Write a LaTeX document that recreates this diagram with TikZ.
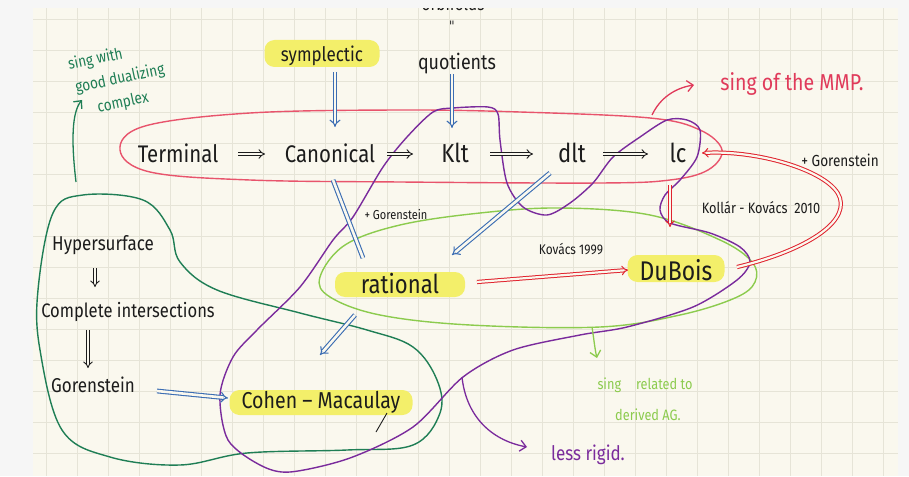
\documentclass[tikz,border=0pt]{standalone}
\usepackage{fontspec}
\setmainfont{Fira Sans}[FakeStretch=0.85]
\usetikzlibrary{arrows.meta}
\definecolor{paper}{HTML}{FAF8EE}
\definecolor{margin}{HTML}{F6F6F6}
\definecolor{gridc}{HTML}{E6E4D7}
\definecolor{ink}{HTML}{1C1C1C}
\definecolor{ellred}{HTML}{E8546C}
\definecolor{arrred}{HTML}{E0232E}
\definecolor{mmpred}{HTML}{E03A5A}
\definecolor{penblue}{HTML}{3B6DB3}
\definecolor{penpurple}{HTML}{7A2B9C}
\definecolor{dgreen}{HTML}{1F7E55}
\definecolor{lgreen}{HTML}{8CCB4E}
\definecolor{hlyellow}{HTML}{F3EF6A}
\newcommand\hsz[1]{\fontsize{#1}{#1}\selectfont}
\tikzset{
  lbl/.style={inner sep=0pt, outer sep=0pt, anchor=base, text=ink},
  hlbox/.style={lbl, fill=hlyellow, rounded corners=10pt, inner xsep=0pt, inner ysep=2pt},
  blackimp/.style={draw=ink, double=paper, line width=0.9pt, double distance=2.4pt, -{Implies}},
  blueimp/.style={draw=penblue, double=paper, line width=1.1pt, double distance=2.6pt, -{Implies}},
  bluedbl/.style={draw=penblue, double=paper, line width=1.1pt, double distance=2.6pt},
  redimp/.style={draw=arrred, double=paper, line width=1pt, double distance=2.2pt, -{Implies}},
  loopline/.style={line width=1.4pt},
  penarrow/.style={line width=1.3pt, -{Straight Barb[length=6pt,width=11pt]}}
}
\begin{document}
\begin{tikzpicture}[x=1pt,y=-1pt]
\useasboundingbox (0,0) rectangle (909,476);
% background
\fill[margin] (0,0) rectangle (909,476);
\fill[paper] (33,8) rectangle (898,476);
\foreach \i in {0,...,27} { \draw[gridc, line width=0.8pt] ({46.5+31*\i},8) -- ({46.5+31*\i},476); }
\foreach \j in {0,...,14} { \draw[gridc, line width=0.8pt] (33,{19.5+31*\j}) -- (898,{19.5+31*\j}); }

% top texts (the first is cut off by the top strip, as in the reference)
\node[lbl, font=\hsz{18}] (orb) at (453,11) {orbifolds};
\fill[margin] (0,0) rectangle (909,8);
\node[inner sep=0pt, text=ink, rotate=90, font=\hsz{12}] (eq) at (453,22.5) {=};
\node[lbl, font=\hsz{21}] (quot) at (457,70) {quotients};
\node[hlbox, font=\hsz{20}, minimum width=115pt, text height=20pt, text depth=3pt] (sym) at (322,62) {symplectic};

% main row
\node[lbl, font=\hsz{24}] (term) at (178,162) {Terminal};
\node[lbl, font=\hsz{24}] (canon) at (330,162) {Canonical};
\node[lbl, font=\hsz{26}] (klt) at (455,162) {Klt};
\node[lbl, font=\hsz{26}] (dlt) at (572,162) {dlt};
\node[lbl, font=\hsz{26}] (lc) at (678,162) {lc};

% middle
\node[hlbox, font=\hsz{26}, minimum width=130pt, text height=19pt, text depth=2pt] (rat) at (400,293) {rational};
\node[hlbox, font=\hsz{27}, minimum width=97pt, text height=23pt, text depth=0pt] (dub) at (676,280) {DuBois};
\node[hlbox, font=\hsz{23}, minimum width=183pt, text height=16pt, text depth=5pt] (cm) at (321,408) {Cohen – Macaulay};

% left group
\node[lbl, font=\hsz{20}] (hyp) at (103,250) {Hypersurface};
\node[lbl, font=\hsz{19.5}] (ci) at (128,317) {Complete intersections};
\node[lbl, font=\hsz{20}] (gor) at (93,392) {Gorenstein};

% small labels
\node[lbl, font=\hsz{16}] (gorR) at (840,166) {+ Gorenstein};
\node[lbl, font=\hsz{13}] (gorM) at (396,219) {+ Gorenstein};
\node[lbl, font=\hsz{14}] (kov) at (571,254) {Kovács 1999};
\node[lbl, font=\hsz{15}] (kk) at (761,213) {Kollár - Kovács\ \ 2010};
\node[lbl, font=\hsz{23}, text=mmpred] (mmp) at (792,91) {sing of the MMP.};
\node[lbl, font=\hsz{20}, text=penpurple] (less) at (588,460) {less rigid.};
\node[lbl, font=\hsz{15}, text=lgreen] (der1) at (645,389) {sing\quad related to};
\node[lbl, font=\hsz{15}, text=lgreen] (der2) at (648,420) {derived AG.};
\node[inner sep=0pt, anchor=center, rotate=12, text=dgreen, align=center,
      font=\fontsize{16}{24}\selectfont] (gd) at (120,79)
  {sing with\hspace*{40pt}\\ good dualizing\\ complex\hspace*{4pt}};

% loops
\draw[ellred, loopline] plot[smooth cycle, tension=0.6] coordinates {
  (120,150) (145,126) (250,113) (400,110) (520,112) (650,118) (700,130) (722,150)
  (708,170) (670,180) (600,183) (400,182) (250,180) (150,172)};
\draw[lgreen, loopline] plot[smooth cycle, tension=0.6] coordinates {
  (320,277) (345,245) (400,225) (480,213) (560,208) (650,215) (720,240) (752,262)
  (755,282) (735,298) (680,315) (600,327) (470,325) (380,315) (330,297)};
\draw[dgreen, loopline] plot[smooth cycle, tension=0.6] coordinates {
  (83,195) (143,200) (170,230) (180,262) (217,290) (300,313) (367,330) (413,347)
  (437,380) (440,413) (413,445) (347,450) (247,453) (180,465) (110,457) (62,430)
  (40,350) (38,290) (53,213)};
\draw[penpurple, loopline] plot[smooth cycle, tension=0.5] coordinates {
  (300,287) (257,330) (233,357) (220,395) (228,440) (260,465) (290,472) (350,458)
  (413,427) (463,377) (513,350) (580,335) (627,327) (693,307) (737,280) (750,262)
  (740,247) (710,233) (670,223) (660,210) (665,195) (680,180) (697,157) (700,130)
  (687,120) (667,120) (640,137) (613,157) (593,183) (570,203) (547,215) (523,207)
  (507,183) (500,140) (498,114) (488,107) (453,108) (433,112) (407,137) (383,167)
  (353,217) (333,240)};

% black implications
\draw[blackimp] ([shift={(60,-8)}]term.base) -- ([shift={(-65,-8)}]canon.base);
\draw[blackimp] ([shift={(57,-8)}]canon.base) -- ([shift={(-42,-8)}]klt.base);
\draw[blackimp] ([shift={(35,-8)}]klt.base) -- ([shift={(-39,-8)}]dlt.base);
\draw[blackimp] ([shift={(31,-8)}]dlt.base) -- ([shift={(-30,-8)}]lc.base);
\draw[blackimp] ([shift={(-8,18)}]hyp.base) -- ([shift={(-33,-30)}]ci.base);
\draw[blackimp] ([shift={(-40,13)}]ci.base) -- ([shift={(-5,-24)}]gor.base);
\draw[ink, line width=0.9pt] ([shift={(55,24)}]cm.base) -- ([shift={(66,5)}]cm.base);

% blue implications
\draw[blueimp] ([shift={(13,10)}]sym.base) -- ([shift={(5,-35)}]canon.base);
\draw[blueimp] ([shift={(-5,4)}]quot.base) -- ([shift={(-3,-34)}]klt.base);
\draw[bluedbl] ([shift={(3,18)}]canon.base) -- ([shift={(-37,-35)}]rat.base);
\draw[blueimp] ([shift={(-22,11)}]dlt.base) -- ([shift={(52,-38)}]rat.base);
\draw[blueimp] ([shift={(-45,22)}]rat.base) -- ([shift={(-1,-53)}]cm.base);
\draw[blueimp] ([shift={(64,-1)}]gor.base) -- ([shift={(-93,-10)}]cm.base);

% red implications
\draw[redimp] ([shift={(77,-11)}]rat.base) -- ([shift={(-48,-10)}]dub.base);
\draw[redimp] ([shift={(-8,23)}]lc.base) -- ([shift={(-6,-53)}]dub.base);
\draw[redimp] ([shift={(61,-13)}]dub.base) .. controls (800,252) and (848,225) .. (840,198)
  .. controls (832,172) and (760,150) .. ([shift={(24,-9)}]lc.base);

% single pen arrows
\coordinate (mmpS) at (652,115);
\draw[mmpred, penarrow] (mmpS) .. controls (660,98) and (675,88) .. ([shift={(-98,-6)}]mmp.base);
\coordinate (gdS) at (76,182);
\draw[dgreen, penarrow] (gdS) .. controls (71,140) and (72,112) .. ([shift={(-38,21)}]gd.center);
\coordinate (derS) at (592,327);
\draw[lgreen, penarrow] (derS) .. controls (594,340) and (595,350) .. ([shift={(-48,-31)}]der1.base);
\coordinate (lessS) at (462,377);
\draw[penpurple, penarrow] (lessS) .. controls (466,415) and (490,440) .. ([shift={(-61,-13)}]less.base);
\end{tikzpicture}
\end{document}
